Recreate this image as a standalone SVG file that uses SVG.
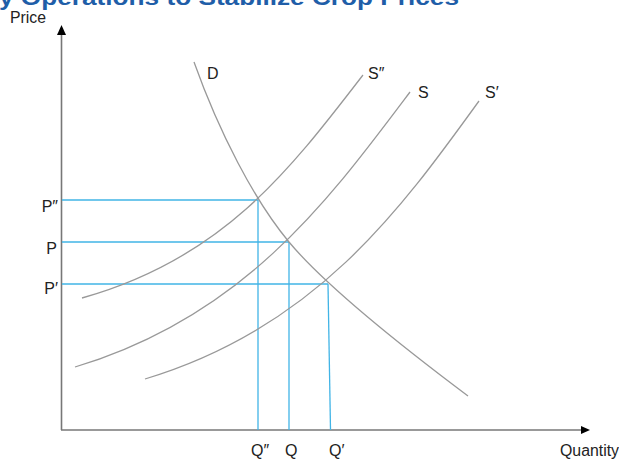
<svg xmlns="http://www.w3.org/2000/svg" width="619" height="459" viewBox="0 0 619 459">
<style>
.lbl{font-family:"Liberation Sans",Arial,sans-serif;font-size:16px;fill:#222}
.curve{fill:none;stroke:#999;stroke-width:1.3}
.guide{fill:none;stroke:#41b4e6;stroke-width:1.3}
.axis{stroke:#777;stroke-width:1.6;fill:none}
.title{font-family:"Liberation Sans",Arial,sans-serif;font-size:22px;font-weight:bold;fill:#1f5ea8}
</style>
<rect width="619" height="459" fill="#fff"/>
<text class="title" x="-1" y="5" textLength="460" lengthAdjust="spacingAndGlyphs">y Operations to Stabilize Crop Prices</text>
<g id="axes">
<line class="axis" x1="61.5" y1="34" x2="61.5" y2="430"/>
<line class="axis" x1="61" y1="430" x2="582" y2="430"/>
<polygon points="61.5,25 57,35 66,35" fill="#000"/>
<polygon points="590,430 581,426 581,434" fill="#000"/>
<text class="lbl" x="10" y="23" textLength="36" lengthAdjust="spacingAndGlyphs">Price</text>
<text class="lbl" x="560" y="456" textLength="59" lengthAdjust="spacingAndGlyphs">Quantity</text>
</g>
<g id="guides">
<line class="guide" x1="62" y1="200" x2="258" y2="200"/>
<line class="guide" x1="62" y1="242" x2="289" y2="242"/>
<line class="guide" x1="62" y1="284" x2="328" y2="284"/>
<line class="guide" x1="258" y1="200" x2="258" y2="430"/>
<line class="guide" x1="289" y1="242" x2="289" y2="430"/>
<line class="guide" x1="328" y1="284" x2="330.5" y2="430"/>
</g>
<g id="demand">
<path class="curve" d="M194,62 C219,132 254,200 289,242 C329,290 418,358.5 468,396"/>
<text class="lbl" x="207" y="79">D</text>
</g>
<g id="supply2">
<path class="curve" d="M82,298 C222,258.8 288,172.5 363,75"/>
<text class="lbl" x="368" y="79">S″</text>
</g>
<g id="supply">
<path class="curve" d="M75,367 C245,316 330,198.4 410,92"/>
<text class="lbl" x="418" y="98">S</text>
</g>
<g id="supply1">
<path class="curve" d="M145,379 C315,328 400,210.4 479,101"/>
<text class="lbl" x="485" y="98">S′</text>
</g>
<g id="ticks">
<text class="lbl" x="58" y="212" text-anchor="end">P″</text>
<text class="lbl" x="57" y="254" text-anchor="end">P</text>
<text class="lbl" x="58" y="294" text-anchor="end">P′</text>
<text class="lbl" x="251" y="456">Q″</text>
<text class="lbl" x="285" y="456">Q</text>
<text class="lbl" x="329" y="456">Q′</text>
</g>
</svg>
